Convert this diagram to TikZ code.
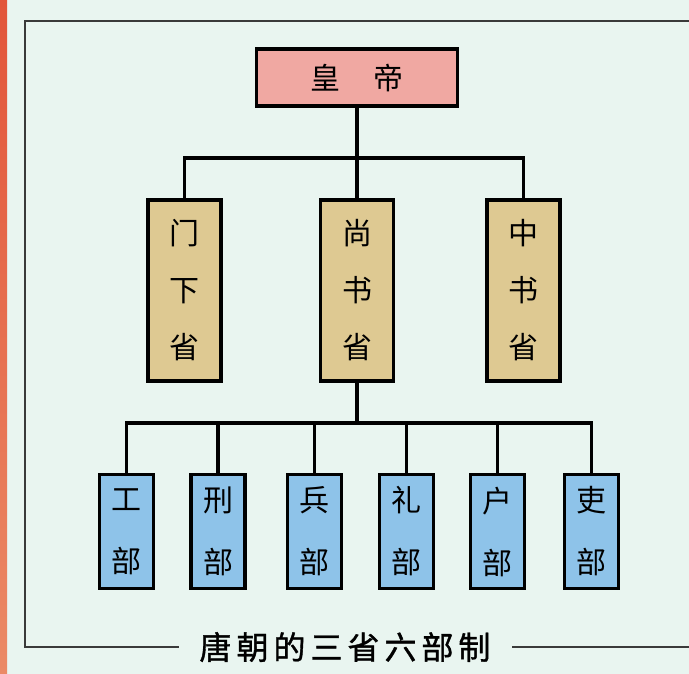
\documentclass[tikz,border=0pt]{standalone}
\usepackage{fontspec}
\newfontfamily\cjk{Noto Sans CJK SC}
\newfontfamily\cjktitle{Noto Sans CJK SC}[FakeBold=1.2]
\definecolor{bg}{HTML}{E9F5F0}
\definecolor{empfill}{HTML}{F0A8A2}
\definecolor{shengfill}{HTML}{DEC992}
\definecolor{bufill}{HTML}{8EC3E9}
\definecolor{framec}{HTML}{3A3A3A}
\definecolor{stripTop}{HTML}{E2553A}
\definecolor{stripBot}{HTML}{EB8A66}
\begin{document}
\begin{tikzpicture}[x=1pt,y=-1pt,
  box/.style={draw=black,line width=3.5pt,inner sep=0pt,align=center},
  emp/.style={box,fill=empfill,minimum width=201pt,minimum height=57pt,font=\cjk\fontsize{30}{32}\selectfont},
  sheng/.style={box,fill=shengfill,minimum width=73pt,minimum height=181pt,font=\cjk\fontsize{30}{57}\selectfont},
  bu/.style={box,fill=bufill,minimum width=54pt,minimum height=114pt,font=\cjk\fontsize{30}{62}\selectfont},
  conn/.style={draw=black,line width=3.5pt},
  frame/.style={draw=framec,line width=2.5pt}]
\useasboundingbox (0,0) rectangle (689,674);
\fill[bg] (0,0) rectangle (689,674);
\shade[top color=stripTop, bottom color=stripBot] (0,0) rectangle (7,674);
% frame
\draw[frame] (689,21) -- (25,21) -- (25,647) -- (689,647);
\node[fill=bg,inner xsep=21pt,inner ysep=2pt,font=\cjktitle\fontsize{32}{34}\selectfont] (title) at (345,647)
  {唐\hspace{5pt}朝\hspace{5pt}的\hspace{5pt}三\hspace{5pt}省\hspace{5pt}六\hspace{5pt}部\hspace{5pt}制};
% nodes
\node[emp] (emp) at (357,77.5) {皇\hspace{34pt}帝};
\node[sheng] (m1) at (184.5,290.5) {门\\下\\省};
\node[sheng] (m2) at (357,290.5) {尚\\书\\省};
\node[sheng] (m3) at (523.5,290.5) {中\\书\\省};
\node[bu] (b1) at (126.5,531.5) {工\\部};
\node[bu] (b2) at (218,531.5) {刑\\部};
\node[bu] (b3) at (314.5,531.5) {兵\\部};
\node[bu] (b4) at (406.5,531.5) {礼\\部};
\node[bu] (b5) at (497.5,531.5) {户\\部};
\node[bu] (b6) at (591.5,531.5) {吏\\部};
\coordinate (bar1) at (0,158);
\coordinate (bar2) at (0,423);
\draw[conn] (emp.south) -- (m2.north);
\draw[conn] (m1.north) -- (m1.north |- bar1) -- (m3.north |- bar1) -- (m3.north);
\draw[conn] (m2.south) -- (m2.south |- bar2);
\draw[conn] (b1.north) -- (b1.north |- bar2) -- (b6.north |- bar2) -- (b6.north);
\foreach \n in {b2,b3,b4,b5} \draw[conn] (\n.north) -- (\n.north |- bar2);
\end{tikzpicture}
\end{document}
